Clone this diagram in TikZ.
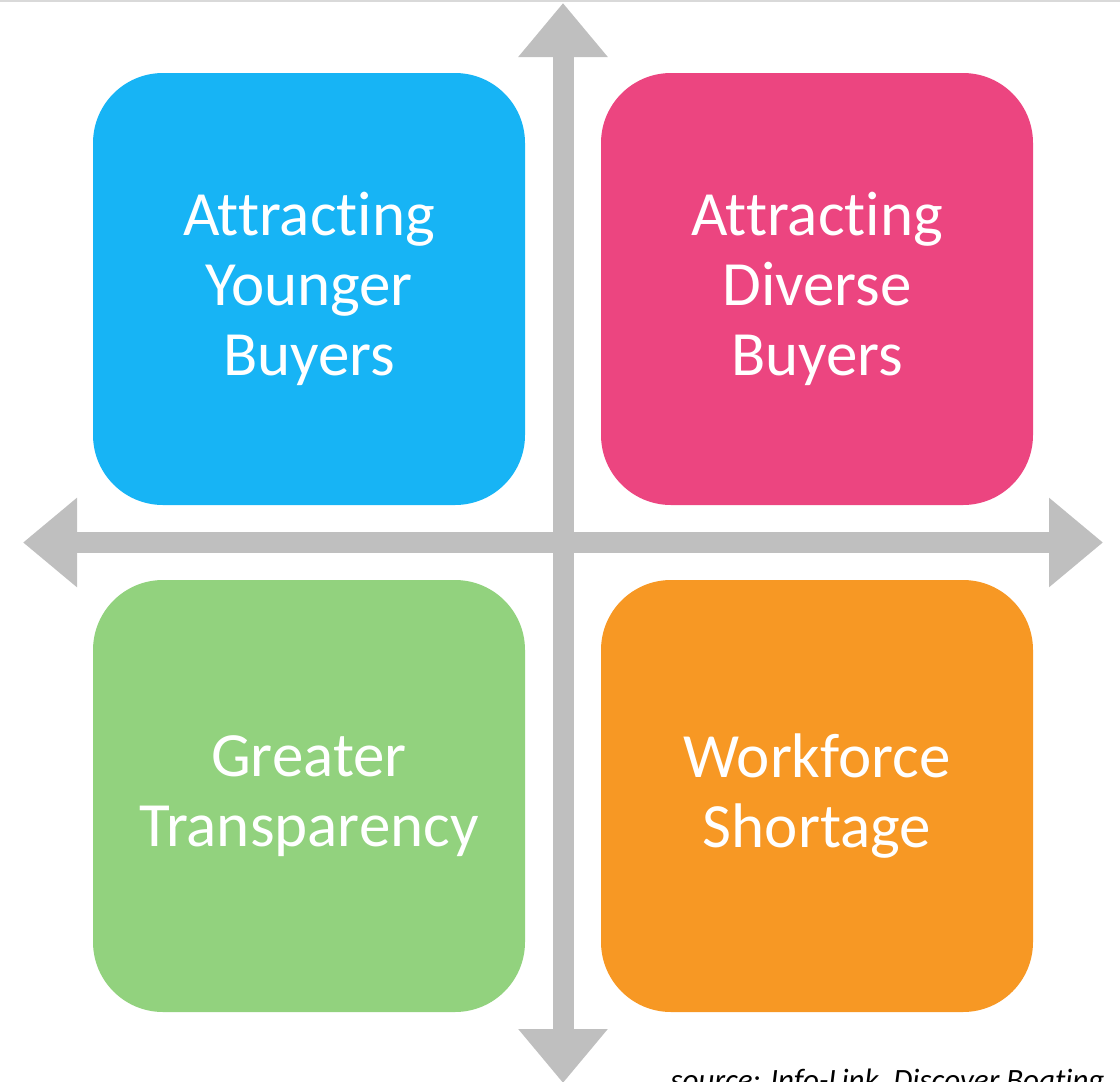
\documentclass[tikz,border=0pt]{standalone}
\usepackage{fontspec}
\setmainfont{Carlito}[Ligatures={NoCommon}]
\usetikzlibrary{arrows.meta}
\definecolor{quadblue}{HTML}{17B4F5}
\definecolor{quadpink}{HTML}{EC4580}
\definecolor{quadgreen}{HTML}{92D27E}
\definecolor{quadorange}{HTML}{F79824}
\definecolor{axisgray}{HTML}{BFBFBF}
\tikzset{
	quad/.style={rounded corners=70pt, minimum width=432pt, minimum height=432pt,
		inner sep=0pt, align=center, text=white, font=\fontsize{63}{70}\selectfont},
	axis/.style={line width=21pt, color=axisgray,
		{Triangle[width=86pt, length=54pt]}-{Triangle[width=86pt, length=54pt]}}
}
\begin{document}
\begin{tikzpicture}[x=1pt, y=-1pt]
			%%%%% START %%%%%
			\useasboundingbox (0, 0) rectangle (1120, 1082);
			
			\draw[line width=2pt, color=black!15] (0, 1) -- (1120, 1);
			
			\coordinate (top) at (563, 3);
			\coordinate (bottom) at (563, 1083);
			\coordinate (left) at (23, 542.5);
			\coordinate (right) at (1103, 542.5);
			\draw[axis] (top) -- (bottom);
			\draw[axis] (left) -- (right);
			
			\node[quad, fill=quadblue] (younger) at (309, 289) {Attracting\\Younger\\Buyers};
			\node[quad, fill=quadpink] (diverse) at (817, 289) {Attracting\\Diverse\\Buyers};
			\node[quad, fill=quadgreen] (transparency) at (309, 796) {Greater\\Transparency};
			\node[quad, fill=quadorange] (workforce) at (817, 796) {Workforce\\Shortage};
			
			% source line runs off the bottom edge, as in the original slide
			\node[anchor=base east, font=\fontsize{31}{36}\selectfont\itshape] (source) at (1108, 1090) {source: Info-Link, Discover Boating};
			%%%%% END %%%%%
\end{tikzpicture}
\end{document}
